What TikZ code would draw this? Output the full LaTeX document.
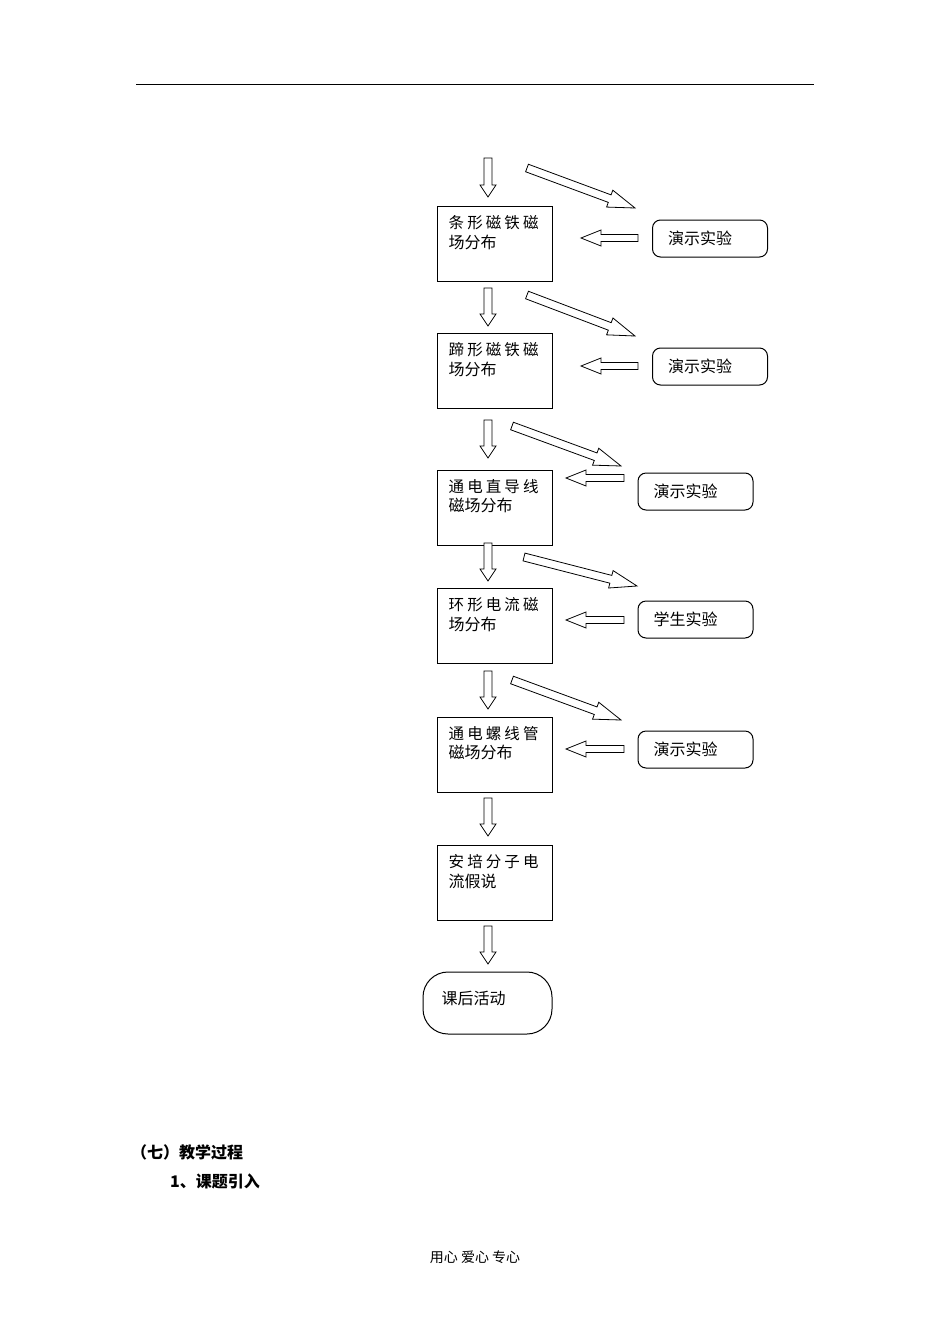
\documentclass[tikz,border=0pt]{standalone}
\usepackage{fontspec}
\usetikzlibrary{calc}
\newfontfamily\cjk{Noto Sans CJK SC}
\newfontfamily\cjksp[LetterSpace=20]{Noto Sans CJK SC}
\newcommand\blockarrow[5]{%
  \coordinate (hb) at ($(#2)!#5!(#1)$);
  \draw[barrow] ($(#1)!#3!90:(#2)$) -- ($(hb)!#3!-90:(#1)$) -- ($(hb)!#4!-90:(#1)$) -- (#2)
    -- ($(hb)!#4!90:(#1)$) -- ($(hb)!#3!90:(#1)$) -- ($(#1)!#3!-90:(#2)$) -- cycle;}
\tikzset{
  barrow/.style={draw=black, line width=0.8pt, fill=white, line join=miter},
  mainbox/.style={draw=black, line width=1pt, minimum width=115pt, minimum height=75pt, inner sep=0pt},
  sidebox/.style={draw=black, line width=1pt, rounded corners=8pt, minimum width=115pt, minimum height=37pt, inner sep=0pt},
  lineone/.style={anchor=west, inner sep=0pt, font=\cjksp\fontsize{15.5}{16}\selectfont},
  linetwo/.style={anchor=west, inner sep=0pt, font=\cjk\fontsize{16}{16}\selectfont},
}
\begin{document}
\begin{tikzpicture}[x=1pt,y=-1pt]
\useasboundingbox (0,0) rectangle (950,1344);
\fill[white] (0,0) rectangle (950,1344);
% header rule
\coordinate (rl) at (136,84);
\coordinate (rr) at (814,84);
\draw[line width=1pt] (rl) -- (rr);

% main boxes
\node[mainbox] (b1) at (494.5,244) {};
\node[mainbox] (b2) at (494.5,371) {};
\node[mainbox] (b3) at (494.5,507.5) {};
\node[mainbox] (b4) at (494.5,626) {};
\node[mainbox] (b5) at (494.5,754.5) {};
\node[mainbox] (b6) at (494.5,883) {};
\node[draw=black, line width=1pt, rounded corners=25pt, minimum width=129pt, minimum height=62pt, inner sep=0pt] (b7) at (487.5,1003) {};

\foreach \b/\one/\two in {b1/条形磁铁磁/场分布, b2/蹄形磁铁磁/场分布, b3/通电直导线/磁场分布, b4/环形电流磁/场分布, b5/通电螺线管/磁场分布, b6/安培分子电/流假说}{
  \node[lineone] (\b t1) at ($(\b.north west)+(12,17)$) {\one};
  \node[linetwo] (\b t2) at ($(\b.north west)+(12,36)$) {\two};
}
\node[linetwo] (b7t) at ($(b7.west)+(19,-5)$) {课后活动};

% side boxes
\foreach \s/\x/\y/\t in {s1/710/238.5/演示实验, s2/710/366.5/演示实验, s3/695.5/491.5/演示实验, s4/695.5/619.5/学生实验, s5/695.5/749.5/演示实验}{
  \node[sidebox] (\s) at (\x,\y) {};
  \node[linetwo] (\s t) at ($(\s.west)+(16,0)$) {\t};
}

% down arrows
\foreach \i/\ya/\yb in {1/158/197, 2/288/326, 3/420/458, 4/543/581, 5/671/709, 6/798/836, 7/926/964}{
  \coordinate (d\i s) at (488,\ya);
  \coordinate (d\i e) at (488,\yb);
  \blockarrow{d\i s}{d\i e}{4pt}{8pt}{12pt}
}

% diagonal arrows
\foreach \i/\xa/\ya/\xb/\yb in {1/527/168/635/208, 2/527/295/635/336, 3/512/426/621/466, 4/524/557/637/586, 5/512/680/621/720}{
  \coordinate (g\i s) at (\xa,\ya);
  \coordinate (g\i e) at (\xb,\yb);
  \blockarrow{g\i s}{g\i e}{4pt}{9pt}{27pt}
}

% left arrows
\foreach \i/\xa/\xb/\y in {1/638/581/238, 2/638/581/366, 3/624/566/478, 4/624/566/620, 5/624/566/749}{
  \coordinate (l\i s) at (\xa,\y);
  \coordinate (l\i e) at (\xb,\y);
  \blockarrow{l\i s}{l\i e}{3.5pt}{8pt}{20pt}
}

% bottom text
\node[anchor=west, inner sep=0pt, font=\cjk\bfseries\fontsize{16}{16}\selectfont] (h1) at (131,1152) {（七）教学过程};
\node[anchor=west, inner sep=0pt, font=\cjk\bfseries\fontsize{16}{16}\selectfont] (h2) at (170,1181) {1、课题引入};
\node[inner sep=0pt, font=\cjk\fontsize{14}{14}\selectfont] (foot) at (475,1257) {用心 爱心 专心};
\end{tikzpicture}
\end{document}
